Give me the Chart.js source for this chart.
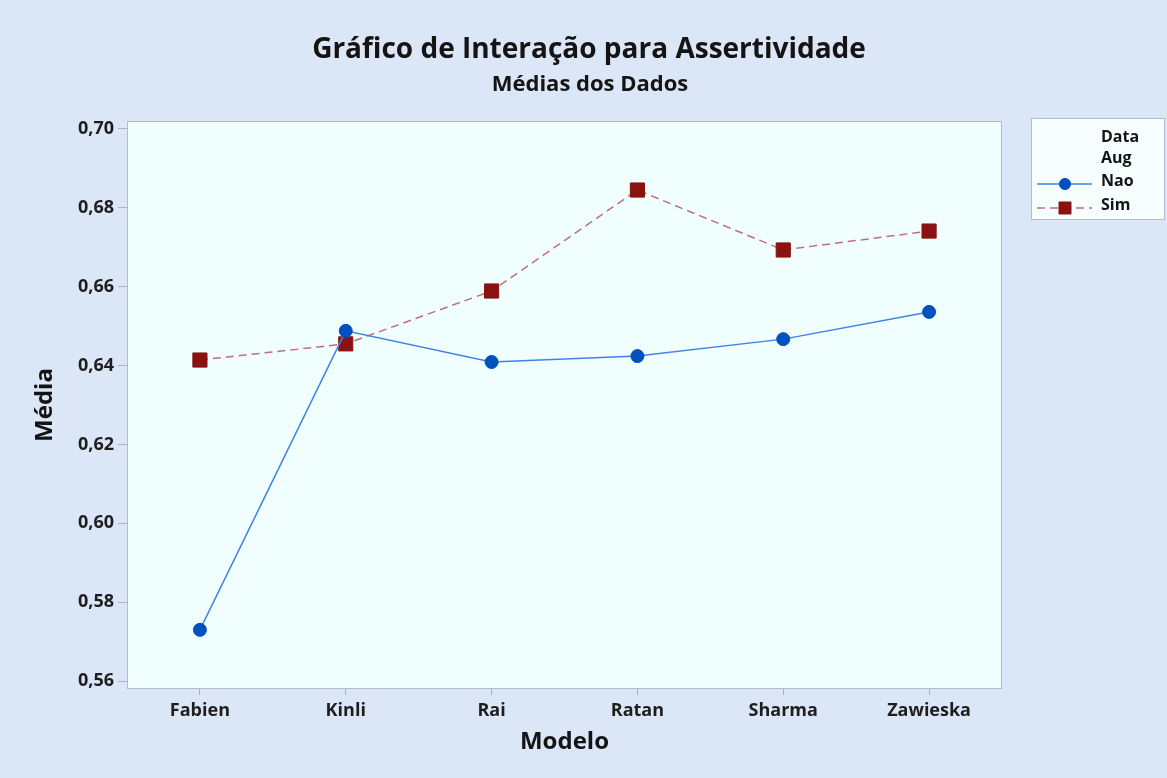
<!DOCTYPE html>
<html>
<head>
<meta charset="utf-8">
<script src="https://cdn.jsdelivr.net/npm/chart.js@4.4.1/dist/chart.umd.min.js"></script>
<style>
html,body{margin:0;padding:0;background:#dbe6f6;}
#wrap{width:1167px;height:778px;position:relative;}
</style>
</head>
<body>
<div id="wrap"><canvas id="c" width="1167" height="778"></canvas></div>
<script>
const categories = ["Fabien", "Kinli", "Rai", "Ratan", "Sharma", "Zawieska"];
const naoValues = [0.573, 0.6488, 0.6409, 0.6424, 0.6467, 0.6536];
const simValues = [0.6414, 0.6455, 0.6589, 0.6845, 0.6693, 0.6741];
const yTicks = [0.56, 0.58, 0.60, 0.62, 0.64, 0.66, 0.68, 0.70];
const titleText = "Gráfico de Interação para Assertividade";
const subtitleText = "Médias dos Dados";
const legendTitle = ["Data", "Aug"];

const FONT = "'Open Sans', 'Noto Sans', sans-serif";

const bgPlugin = {
  id: 'bgPlugin',
  beforeDraw(chart) {
    const {ctx, chartArea: a} = chart;
    ctx.save();
    ctx.fillStyle = '#dbe6f6';
    ctx.fillRect(0, 0, chart.width, chart.height);
    ctx.fillStyle = '#f1fefe';
    ctx.fillRect(a.left, a.top, a.right - a.left, a.bottom - a.top);
    ctx.restore();
  },
  afterDatasetsDraw(chart) {
    const {ctx, chartArea: a} = chart;
    ctx.save();
    ctx.strokeStyle = '#b3bccb';
    ctx.lineWidth = 1;
    ctx.strokeRect(a.left + 0.5, a.top + 0.5, a.right - a.left - 1, a.bottom - a.top - 1);
    ctx.restore();
  }
};

const titlePlugin = {
  id: 'titlePlugin',
  afterDraw(chart) {
    const ctx = chart.ctx;
    ctx.save();
    ctx.fillStyle = '#141414';
    ctx.textAlign = 'center';
    ctx.textBaseline = 'middle';
    ctx.font = "bold 28px " + FONT;
    ctx.fillText(titleText, 589, 50);
    ctx.font = "bold 22px " + FONT;
    ctx.fillText(subtitleText, 590, 85);
    ctx.restore();
  }
};

const legendPlugin = {
  id: 'legendPlugin',
  afterDraw(chart) {
    const ctx = chart.ctx;
    const x0 = 1031, y0 = 118, w = 134, h = 102;
    ctx.save();
    ctx.fillStyle = '#f6fefe';
    ctx.fillRect(x0, y0, w, h);
    ctx.strokeStyle = '#b3bccb';
    ctx.lineWidth = 1;
    ctx.strokeRect(x0 + 0.5, y0 + 0.5, w - 1, h - 1);
    ctx.fillStyle = '#141414';
    ctx.font = "bold 16px " + FONT;
    ctx.textBaseline = 'middle';
    ctx.textAlign = 'left';
    ctx.fillText(legendTitle[0], 1101, 137);
    ctx.fillText(legendTitle[1], 1101, 158);
    const rows = [181, 205];
    chart.data.datasets.forEach((ds, i) => {
      const y = rows[i];
      ctx.save();
      ctx.strokeStyle = ds.borderColor;
      ctx.lineWidth = ds.borderWidth;
      ctx.setLineDash(ds.borderDash || []);
      ctx.beginPath();
      ctx.moveTo(1037, y + 3);
      ctx.lineTo(1092, y + 3);
      ctx.stroke();
      ctx.restore();
      ctx.save();
      ctx.fillStyle = ds.pointBackgroundColor;
      ctx.strokeStyle = ds.pointBorderColor;
      Chart.helpers.drawPoint(ctx, {pointStyle: ds.pointStyle, radius: ds.pointRadius * 0.85, borderWidth: 1, rotation: 0}, 1065, y + 3);
      ctx.restore();
      ctx.fillStyle = '#141414';
      ctx.fillText(ds.label, 1101, y);
    });
    ctx.restore();
  }
};

new Chart(document.getElementById('c'), {
  type: 'line',
  data: {
    labels: categories,
    datasets: [
      {
        label: 'Nao',
        data: naoValues,
        borderColor: '#3f83e6',
        borderWidth: 1.5,
        pointStyle: 'circle',
        pointRadius: 6.5,
        pointBackgroundColor: '#0050bf',
        pointBorderColor: '#0050bf',
        pointBorderWidth: 1,
        tension: 0,
        fill: false
      },
      {
        label: 'Sim',
        data: simValues,
        borderColor: '#bd6f7c',
        borderWidth: 1.5,
        borderDash: [8, 5],
        pointStyle: 'rect',
        pointRadius: 10,
        pointBackgroundColor: '#8a1212',
        pointBorderColor: '#8a1212',
        pointBorderWidth: 1,
        tension: 0,
        fill: false
      }
    ]
  },
  options: {
    responsive: false,
    animation: false,
    devicePixelRatio: 1,
    layout: { padding: { left: 0, top: 121, right: 165, bottom: 0 } },
    plugins: {
      legend: { display: false },
      title: { display: false },
      tooltip: { enabled: false }
    },
    scales: {
      x: {
        offset: true,
        grid: { display: true, drawOnChartArea: false, drawTicks: true, tickLength: 6, color: '#a9b3c2', offset: false },
        border: { display: false },
        ticks: { color: '#1e1e1e', font: { family: FONT, size: 18, weight: 'bold' }, padding: 5, maxRotation: 0 },
        title: { display: true, text: 'Modelo', color: '#141414', font: { family: FONT, size: 24, weight: 'bold' }, padding: { top: 0, bottom: 21 } },
        afterFit(scale) { scale.height = 89; }
      },
      y: {
        min: 0.558,
        max: 0.702,
        afterBuildTicks(scale) { scale.ticks = yTicks.map(v => ({ value: v })); },
        grid: { display: true, drawOnChartArea: false, drawTicks: true, tickLength: 9, color: '#a9b3c2' },
        border: { display: false },
        ticks: {
          color: '#1e1e1e',
          font: { family: FONT, size: 18, weight: 'bold' },
          padding: 4,
          callback: v => v.toFixed(2).replace('.', ',')
        },
        title: { display: true, text: 'Média', color: '#141414', font: { family: FONT, size: 24, weight: 'bold' }, padding: { top: 31, bottom: 0 } },
        afterFit(scale) { scale.width = 127; }
      }
    }
  },
  plugins: [bgPlugin, titlePlugin, legendPlugin]
});
</script>
</body>
</html>
